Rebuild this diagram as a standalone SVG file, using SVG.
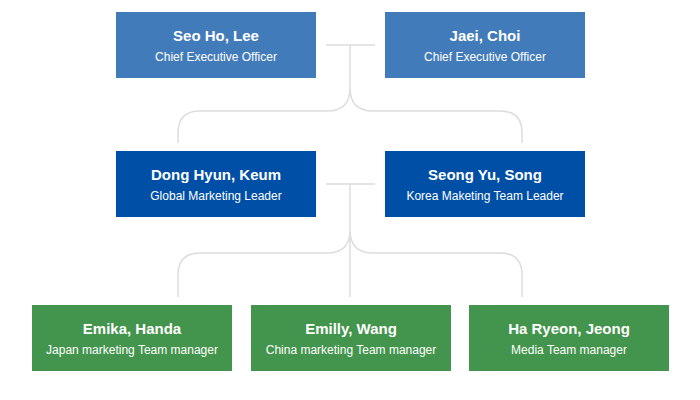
<svg xmlns="http://www.w3.org/2000/svg" width="700" height="400" viewBox="0 0 700 400">
<style>
.exec{fill:#427bba}
.lead{fill:#004fa7}
.mgr{fill:#43944c}
.name{font-family:"Liberation Sans",Arial,sans-serif;font-size:15px;font-weight:bold;fill:#fff;text-anchor:middle}
.role{font-family:"Liberation Sans",Arial,sans-serif;font-size:12px;fill:#fff;text-anchor:middle}
.conn{fill:none;stroke:#dddddd;stroke-width:1.5}
</style>
<rect width="700" height="400" fill="#fff"/>
<g id="connectors">
<path class="conn" d="M326 45H375M350 45V88Q350 111 327 111H200Q178 111 178 133V143M350 88Q350 111 373 111H500Q522 111 522 133V143"/>
<path class="conn" d="M326 184H375M350 184V297M350 230Q350 253 327 253H200Q178 253 178 275V297M350 230Q350 253 373 253H500Q522 253 522 275V297"/>
</g>
<g id="seo-ho-lee"><rect class="exec" x="116" y="12" width="200" height="66"/><text class="name" x="216" y="41">Seo Ho, Lee</text><text class="role" x="216" y="61">Chief Executive Officer</text></g>
<g id="jaei-choi"><rect class="exec" x="385" y="12" width="200" height="66"/><text class="name" x="485" y="41">Jaei, Choi</text><text class="role" x="485" y="61">Chief Executive Officer</text></g>
<g id="dong-hyun-keum"><rect class="lead" x="116" y="151" width="200" height="66"/><text class="name" x="216" y="180">Dong Hyun, Keum</text><text class="role" x="216" y="200">Global Marketing Leader</text></g>
<g id="seong-yu-song"><rect class="lead" x="385" y="151" width="200" height="66"/><text class="name" x="485" y="180">Seong Yu, Song</text><text class="role" x="485" y="200">Korea Maketing Team Leader</text></g>
<g id="emika-handa"><rect class="mgr" x="32" y="305" width="200" height="66"/><text class="name" x="132" y="334">Emika, Handa</text><text class="role" x="132" y="354">Japan marketing Team manager</text></g>
<g id="emilly-wang"><rect class="mgr" x="251" y="305" width="200" height="66"/><text class="name" x="351" y="334">Emilly, Wang</text><text class="role" x="351" y="354">China marketing Team manager</text></g>
<g id="ha-ryeon-jeong"><rect class="mgr" x="469" y="305" width="200" height="66"/><text class="name" x="569" y="334">Ha Ryeon, Jeong</text><text class="role" x="569" y="354">Media Team manager</text></g>
</svg>
